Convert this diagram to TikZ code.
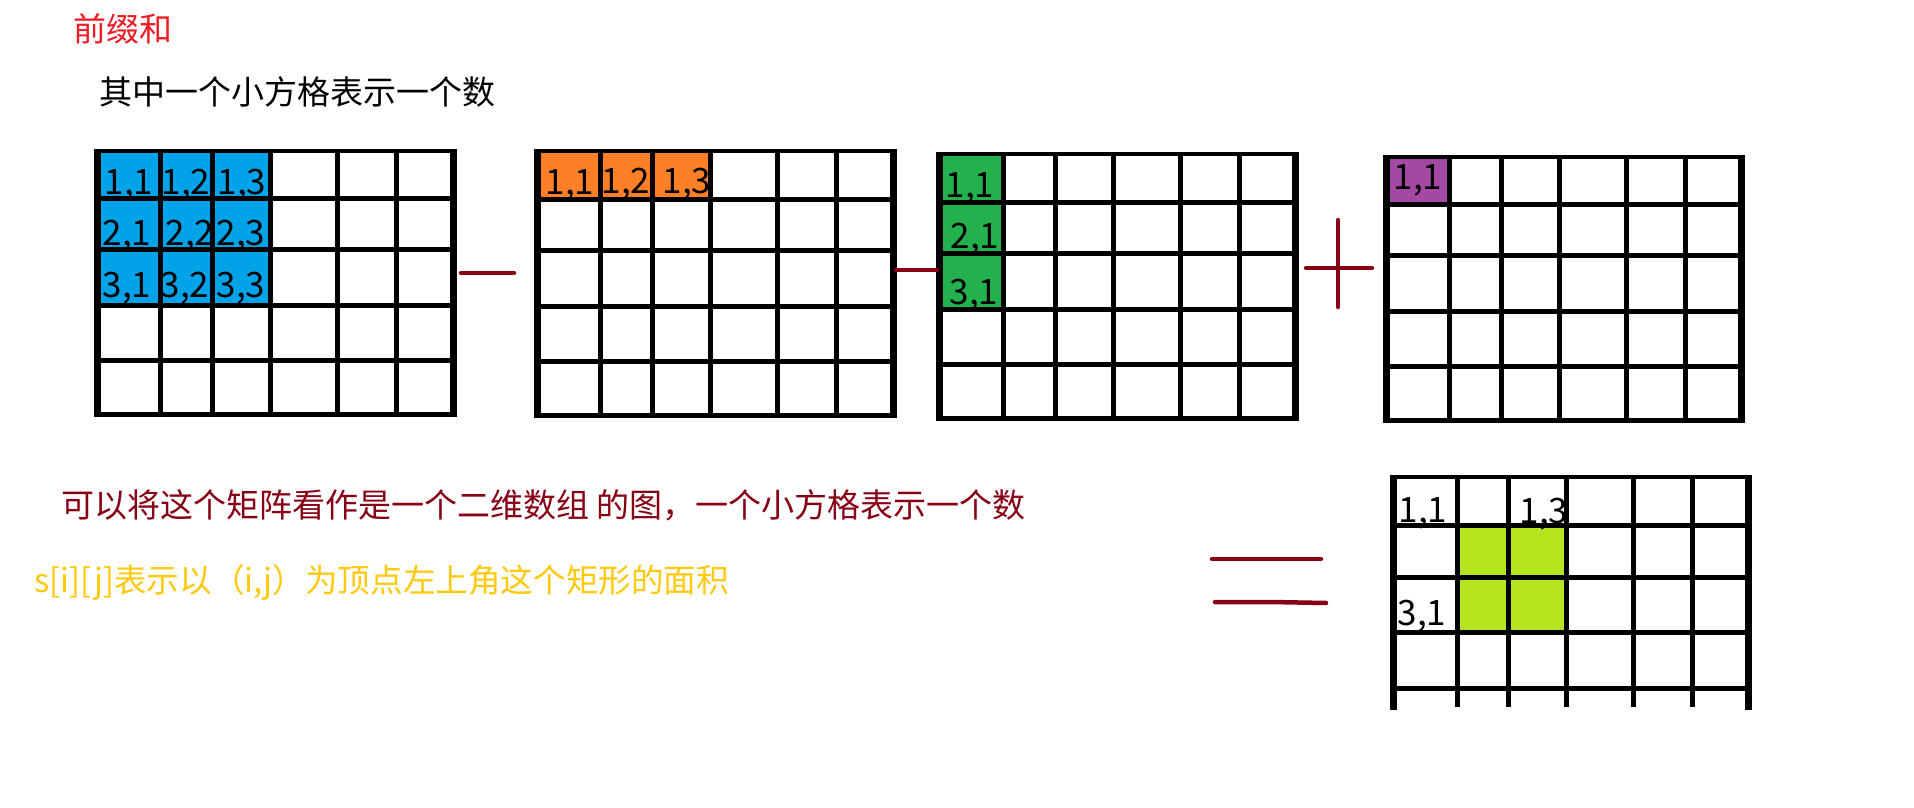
\documentclass[tikz,border=0pt]{standalone}
\usepackage{fontspec}
\setmainfont{Noto Sans CJK SC}
\usepackage{xcolor}

\definecolor{pbblue}{RGB}{0,162,232}
\definecolor{pborange}{RGB}{255,127,39}
\definecolor{pbgreen}{RGB}{34,177,76}
\definecolor{pbpurple}{RGB}{163,73,164}
\definecolor{pblime}{RGB}{181,230,29}
\definecolor{pbred}{RGB}{237,28,36}
\definecolor{pbdark}{RGB}{136,0,21}
\definecolor{pbyellow}{RGB}{255,201,14}

% one matrix: left, right, top, bottom, inner columns, inner rows, bottom edge options
\newcommand{\matgrid}[7]{%
  \foreach \gx in {#5} \draw[cellline] (\gx,#3) -- (\gx,#4);
  \foreach \gy in {#6} \draw[cellline] (#1,\gy) -- (#2,\gy);
  \draw[line width=4pt] (#1,#3) -- (#2,#3);
  \draw[line width=7pt] (#1,#3-2) -- (#1,#4+2.5);
  \draw[line width=7pt] (#2,#3-2) -- (#2,#4+2.5);
  \draw[line width=5pt,#7] (#1,#4) -- (#2,#4);
}

\begin{document}
\begin{tikzpicture}[x=1pt,y=-1pt,
  cellline/.style={line width=5pt},
  sign/.style={pbdark,line width=4.5pt,line cap=round},
  txt/.style={anchor=west,inner sep=0pt,font=\fontsize{33}{40}\selectfont},
  cellnum/.style={anchor=base,inner sep=0pt,font=\fontsize{35}{35}\selectfont}]
\path[fill=white,use as bounding box] (0,0) rectangle (1914,808);

% headings
\node[txt,text=pbred] (title) at (73,29) {前缀和};
\node[txt] (note) at (99,92) {其中一个小方格表示一个数};

% coloured blocks
\fill[pbblue] (97,151) rectangle (270,305);
\fill[pborange] (537,151) rectangle (710,199);
\fill[pbgreen] (939,154) rectangle (1003,309);
\fill[pbpurple] (1386,157) rectangle (1449,204);
\fill[pblime] (1457,525) rectangle (1566,632);

% the matrices
\matgrid{97}{453}{151}{414}{160,212,270,337,396}{198,249,305,360}{}
\matgrid{537}{893}{151}{415}{600,652,710,777,836}{199,250,306,361}{}
\matgrid{939}{1295}{154}{418}{1003,1055,1113,1180,1239}{202,253,309,364}{}
\matgrid{1386}{1741}{157}{420}{1449,1501,1559,1626,1685}{204,255,311,366}{}
\matgrid{1393}{1748}{477}{707}{1457,1508,1566,1633,1692}{525,577,632,688}{draw=none}

% cell numbers
\node[cellnum] (a11) at (129,194) {1,1};
\node[cellnum] (a12) at (186,194) {1,2};
\node[cellnum] (a13) at (242,194) {1,3};
\node[cellnum] (a21) at (127,245) {2,1};
\node[cellnum] (a22) at (190,245) {2,2};
\node[cellnum] (a23) at (241,245) {2,3};
\node[cellnum] (a31) at (127,297) {3,1};
\node[cellnum] (a32) at (185,297) {3,2};
\node[cellnum] (a33) at (241,297) {3,3};
\node[cellnum] (b11) at (570,194) {1,1};
\node[cellnum] (b12) at (626,193) {1,2};
\node[cellnum] (b13) at (687,193) {1,3};
\node[cellnum] (c11) at (970,197) {1,1};
\node[cellnum] (c21) at (975,248) {2,1};
\node[cellnum] (c31) at (974,304) {3,1};
\node[cellnum] (d11) at (1418,189) {1,1};
\node[cellnum] (e11) at (1423,522) {1,1};
\node[cellnum] (e13) at (1544,523) {1,3};
\node[cellnum] (e31) at (1422,625) {3,1};

% signs between the matrices
\draw[sign] (461,273) -- (514,273);
\draw[sign] (896,270) -- (937,270);
\draw[sign] (1306,268) -- (1372,268);
\draw[sign] (1338,220) -- (1338,307);
\draw[sign] (1212,559) -- (1321,559);
\draw[sign] (1215,602) -- (1270,602) -- (1326,603);

% explanation
\node[txt,text=pbdark] (desc) at (61,505) {可以将这个矩阵看作是一个二维数组 的图，一个小方格表示一个数};
\node[txt,text=pbyellow,font=\fontsize{32.6}{40}\selectfont] (defn) at (34,582) {s[i][j]表示以（i,j）为顶点左上角这个矩形的面积};
\end{tikzpicture}
\end{document}
